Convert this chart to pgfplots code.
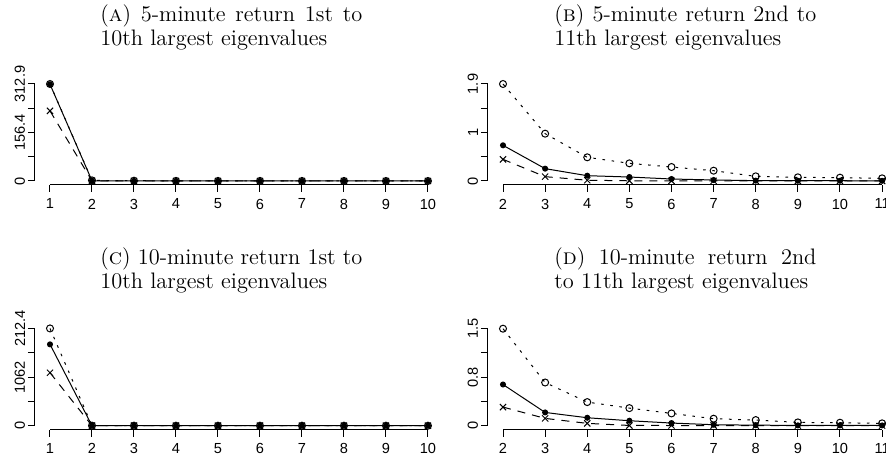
\documentclass[border=0pt]{standalone}
\usepackage{fontspec}
\usepackage{pgfplots}
\pgfplotsset{compat=1.18}
\newfontfamily\tickfontfam{Liberation Sans}
\newcommand{\tickf}{\fontsize{7.3}{8}\selectfont\tickfontfam}
\newcommand{\titf}{\fontsize{11.2}{12}\selectfont}

% Panel B data (2nd to 11th, 5-minute)
\pgfplotstableread{
x solid dotted dashed
2 0.699 1.900 0.424
3 0.242 0.927 0.085
4 0.104 0.464 0.015
5 0.078 0.346 0.004
6 0.039 0.274 0.003
7 0.020 0.202 0.002
8 0.007 0.091 0.002
9 0.005 0.072 0.001
10 0.005 0.065 0.001
11 0.004 0.052 0.001
}\tabB
% Panel A data (1st to 10th, 5-minute)
\pgfplotstableread{
x solid dotted dashed
1 312.0 312.9 226.0
2 0.699 1.900 0.424
3 0.242 0.927 0.085
4 0.104 0.464 0.015
5 0.078 0.346 0.004
6 0.039 0.274 0.003
7 0.020 0.202 0.002
8 0.007 0.091 0.002
9 0.005 0.072 0.001
10 0.005 0.065 0.001
}\tabA
% Panel D data (2nd to 11th, 10-minute)
\pgfplotstableread{
x solid dotted dashed
2 0.637 1.500 0.288
3 0.205 0.668 0.113
4 0.123 0.365 0.036
5 0.077 0.272 0.004
6 0.041 0.190 0.003
7 0.015 0.108 0.002
8 0.008 0.087 0.002
9 0.005 0.051 0.001
10 0.005 0.046 0.001
11 0.004 0.036 0.001
}\tabD
% Panel C data (1st to 10th, 10-minute)
\pgfplotstableread{
x solid dotted dashed
1 1781 2130 1160
2 0.637 1.500 0.288
3 0.205 0.668 0.113
4 0.123 0.365 0.036
5 0.077 0.272 0.004
6 0.041 0.190 0.003
7 0.015 0.108 0.002
8 0.008 0.087 0.002
9 0.005 0.051 0.001
10 0.005 0.046 0.001
}\tabC

\pgfplotsset{
  rstyle/.style={
    scale only axis, anchor=south west, clip=false,
    axis x line*=bottom, axis y line*=left,
    axis line style={draw=none},
    tick align=outside, major tick length=3.5pt,
    tick style={black, line width=0.5pt},
    minor tick num=0,
    xticklabel style={font=\tickf, black},
    yticklabel style={font=\tickf, black, rotate=90, anchor=south, inner sep=1.2pt},
  },
  sSolid/.style={black, line width=0.5pt, mark=*, mark size=1.25pt, mark options={solid}},
  sDot/.style={black, line width=0.5pt, dash pattern=on 1.3pt off 3.3pt, mark=o, mark size=1.75pt, mark options={solid}},
  sDash/.style={black, line width=0.5pt, dash pattern=on 4pt off 3.5pt, mark=x, mark size=2.2pt, mark options={solid}},
}

\begin{document}
\begin{tikzpicture}[x=1pt,y=1pt]
\useasboundingbox (0,0) rectangle (443,230);

% Titles
\node[anchor=base west, inner sep=0] at (50,219.25) {\parbox[t]{131pt}{\titf (\textsc{a}) 5-minute return 1st to 10th largest eigenvalues}};
\node[anchor=base west, inner sep=0] at (277,219.25) {\parbox[t]{131pt}{\titf (\textsc{b}) 5-minute return 2nd to 11th largest eigenvalues}};
\node[anchor=base west, inner sep=0] at (50,97.75) {\parbox[t]{131pt}{\titf (\textsc{c}) 10-minute return 1st to 10th largest eigenvalues}};
\node[anchor=base west, inner sep=0] at (277,97.75) {\parbox[t]{131pt}{\titf (\textsc{d}) 10-minute return 2nd\linebreak to 11th largest eigenvalues}};

% Panel A
\begin{axis}[rstyle, at={(17.44pt,137.56pt)}, width=204.1pt, height=52.38pt,
  xmin=0.64, xmax=10.36, ymin=-12.516, ymax=325.416,
  xtick={1,...,10}, xticklabels={1,2,3,4,5,6,7,8,9,10},
  ytick={0,78.225,156.45,234.675,312.9}, yticklabels={0,,156.4,,312.9}]
\addplot[sSolid] table[x=x,y=solid] {\tabA};
\addplot[sDot] table[x=x,y=dotted] {\tabA};
\addplot[sDash] table[x=x,y=dashed] {\tabA};
\draw[black, line width=0.5pt] (axis cs:1,-12.516) -- (axis cs:10,-12.516);
\draw[black, line width=0.5pt] (axis cs:0.64,0) -- (axis cs:0.64,312.9);
\end{axis}

% Panel B
\begin{axis}[rstyle, at={(243.92pt,137.56pt)}, width=204.7pt, height=52.38pt,
  xmin=1.64, xmax=11.36, ymin=-0.076, ymax=1.976,
  xtick={2,...,11}, xticklabels={2,3,4,5,6,7,8,9,10,11},
  ytick={0,0.475,0.95,1.425,1.9}, yticklabels={0,,1,,1.9}]
\addplot[sSolid] table[x=x,y=solid] {\tabB};
\addplot[sDot] table[x=x,y=dotted] {\tabB};
\addplot[sDash] table[x=x,y=dashed] {\tabB};
\draw[black, line width=0.5pt] (axis cs:2,-0.076) -- (axis cs:11,-0.076);
\draw[black, line width=0.5pt] (axis cs:1.64,0) -- (axis cs:1.64,1.9);
\end{axis}

% Panel C
\begin{axis}[rstyle, at={(17.44pt,15.21pt)}, width=204.1pt, height=52.38pt,
  xmin=0.64, xmax=10.36, ymin=-84.96, ymax=2208.96,
  xtick={1,...,10}, xticklabels={1,2,3,4,5,6,7,8,9,10},
  ytick={0,531,1062,1593,2124}, yticklabels={0,,1062,,212.4}]
\addplot[sSolid] table[x=x,y=solid] {\tabC};
\addplot[sDot] table[x=x,y=dotted] {\tabC};
\addplot[sDash] table[x=x,y=dashed] {\tabC};
\draw[black, line width=0.5pt] (axis cs:1,-84.96) -- (axis cs:10,-84.96);
\draw[black, line width=0.5pt] (axis cs:0.64,0) -- (axis cs:0.64,2124);
\end{axis}

% Panel D
\begin{axis}[rstyle, at={(243.92pt,15.21pt)}, width=204.7pt, height=52.38pt,
  xmin=1.64, xmax=11.36, ymin=-0.06, ymax=1.56,
  xtick={2,...,11}, xticklabels={2,3,4,5,6,7,8,9,10,11},
  ytick={0,0.375,0.75,1.125,1.5}, yticklabels={0,,0.8,,1.5}]
\addplot[sSolid] table[x=x,y=solid] {\tabD};
\addplot[sDot] table[x=x,y=dotted] {\tabD};
\addplot[sDash] table[x=x,y=dashed] {\tabD};
\draw[black, line width=0.5pt] (axis cs:2,-0.06) -- (axis cs:11,-0.06);
\draw[black, line width=0.5pt] (axis cs:1.64,0) -- (axis cs:1.64,1.5);
\end{axis}
\end{tikzpicture}
\end{document}
